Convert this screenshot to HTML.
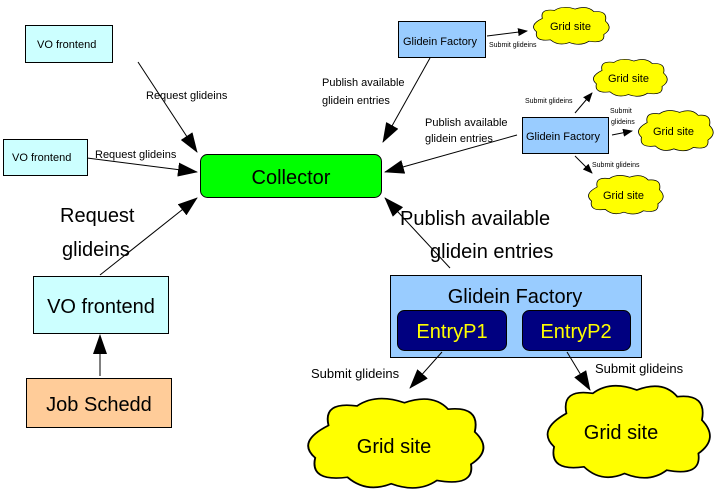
<!DOCTYPE html>
<html><head><style>body{margin:0;background:#fff}svg{display:block}text{font-family:"Liberation Sans",sans-serif;fill:#000}</style></head>
<body>
<svg width="719" height="498" viewBox="0 0 719 498" xmlns="http://www.w3.org/2000/svg">
<defs>
<marker id="a" markerWidth="10" markerHeight="8" refX="9" refY="4" orient="auto" markerUnits="userSpaceOnUse"><path d="M0,0L10,4L0,8z" fill="#000"/></marker>
<marker id="b" markerWidth="20" markerHeight="14" refX="19" refY="7" orient="auto" markerUnits="userSpaceOnUse"><path d="M0,0L20,7L0,14z" fill="#000"/></marker>
<path id="c" d="M15,20 Q12,5 30,8 Q40,0 55,6 Q70,0 78,10 Q95,8 92,24 Q102,35 90,44 Q92,58 72,54 Q62,62 48,56 Q35,62 25,52 Q5,55 8,40 Q-2,30 15,20 Z"/>
</defs>
<g fill="#ffff00" stroke="#000" stroke-width="1">
<use href="#c" transform="translate(530,5) scale(0.82,0.67)" vector-effect="non-scaling-stroke"/>
<use href="#c" transform="translate(590,57) scale(0.8,0.67)"/>
<use href="#c" transform="translate(635,108) scale(0.81,0.73)"/>
<use href="#c" transform="translate(585,173) scale(0.81,0.7)"/>
<use href="#c" transform="translate(300,393) scale(1.9,1.62)"/>
<use href="#c" transform="translate(540,380) scale(1.76,1.67)"/>
</g>
<g stroke="#000" stroke-width="1">
<rect x="25.5" y="25.5" width="87" height="37" fill="#ccffff"/>
<rect x="3.5" y="139.5" width="84" height="36" fill="#ccffff"/>
<rect x="200.5" y="154.5" width="181" height="43" rx="7" fill="#00ff00"/>
<rect x="33.5" y="276.5" width="135" height="57" fill="#ccffff"/>
<rect x="26.5" y="378.5" width="145" height="49" fill="#ffcc99"/>
<rect x="390.5" y="275.5" width="251" height="82" fill="#99ccff"/>
<rect x="397.5" y="310.5" width="109" height="40" rx="7" fill="#000080"/>
<rect x="522.5" y="310.5" width="108" height="40" rx="7" fill="#000080"/>
<rect x="398.5" y="21.5" width="87" height="36" fill="#99ccff"/>
<rect x="522.5" y="117.5" width="86" height="36" fill="#99ccff"/>
</g>
<g stroke="#000" stroke-width="1" fill="none">
<line x1="138" y1="62" x2="197" y2="152" marker-end="url(#b)"/>
<line x1="87" y1="158" x2="197" y2="172" marker-end="url(#b)"/>
<line x1="100" y1="275" x2="197" y2="198" marker-end="url(#b)"/>
<line x1="100" y1="376" x2="100" y2="335" marker-end="url(#b)"/>
<line x1="430" y1="58" x2="383" y2="142" marker-end="url(#b)"/>
<line x1="517" y1="135" x2="385" y2="172" marker-end="url(#b)"/>
<line x1="450" y1="268" x2="385" y2="198" marker-end="url(#b)"/>
<line x1="487" y1="36" x2="527" y2="31" marker-end="url(#a)"/>
<line x1="575" y1="113" x2="592" y2="93" marker-end="url(#a)"/>
<line x1="612" y1="135" x2="632" y2="131" marker-end="url(#a)"/>
<line x1="575" y1="156" x2="592" y2="173" marker-end="url(#a)"/>
<line x1="442" y1="352" x2="410" y2="388" marker-end="url(#b)"/>
<line x1="567" y1="352" x2="590" y2="390" marker-end="url(#b)"/>
</g>
<g font-size="11">
<text x="37" y="48">VO frontend</text>
<text x="12" y="161">VO frontend</text>
<text x="146" y="99">Request glideins</text>
<text x="95" y="158">Request glideins</text>
<text x="322" y="86">Publish available</text>
<text x="322" y="104">glidein entries</text>
<text x="425" y="126">Publish available</text>
<text x="425" y="142">glidein entries</text>
<text x="403" y="45">Glidein Factory</text>
<text x="526" y="140">Glidein Factory</text>
<text x="550" y="30">Grid site</text>
<text x="608" y="82">Grid site</text>
<text x="653" y="135">Grid site</text>
<text x="603" y="199">Grid site</text>
</g>
<g font-size="7">
<text x="489" y="47">Submit glideins</text>
<text x="525" y="103">Submit glideins</text>
<text x="610" y="113">Submit</text>
<text x="611" y="124">glideins</text>
<text x="592" y="167">Submit glideins</text>
</g>
<g font-size="13">
<text x="311" y="378">Submit glideins</text>
<text x="595" y="373">Submit glideins</text>
</g>
<g font-size="20">
<text x="291" y="184" text-anchor="middle">Collector</text>
<text x="60" y="222">Request</text>
<text x="62" y="256">glideins</text>
<text x="101" y="313" text-anchor="middle">VO frontend</text>
<text x="99" y="411" text-anchor="middle">Job Schedd</text>
<text x="400" y="225">Publish available</text>
<text x="430" y="258">glidein entries</text>
<text x="515" y="303" text-anchor="middle">Glidein Factory</text>
<text x="452" y="338" text-anchor="middle" style="fill:#ffff00">EntryP1</text>
<text x="576" y="338" text-anchor="middle" style="fill:#ffff00">EntryP2</text>
<text x="394" y="453" text-anchor="middle">Grid site</text>
<text x="621" y="439" text-anchor="middle">Grid site</text>
</g>
</svg>
</body></html>
